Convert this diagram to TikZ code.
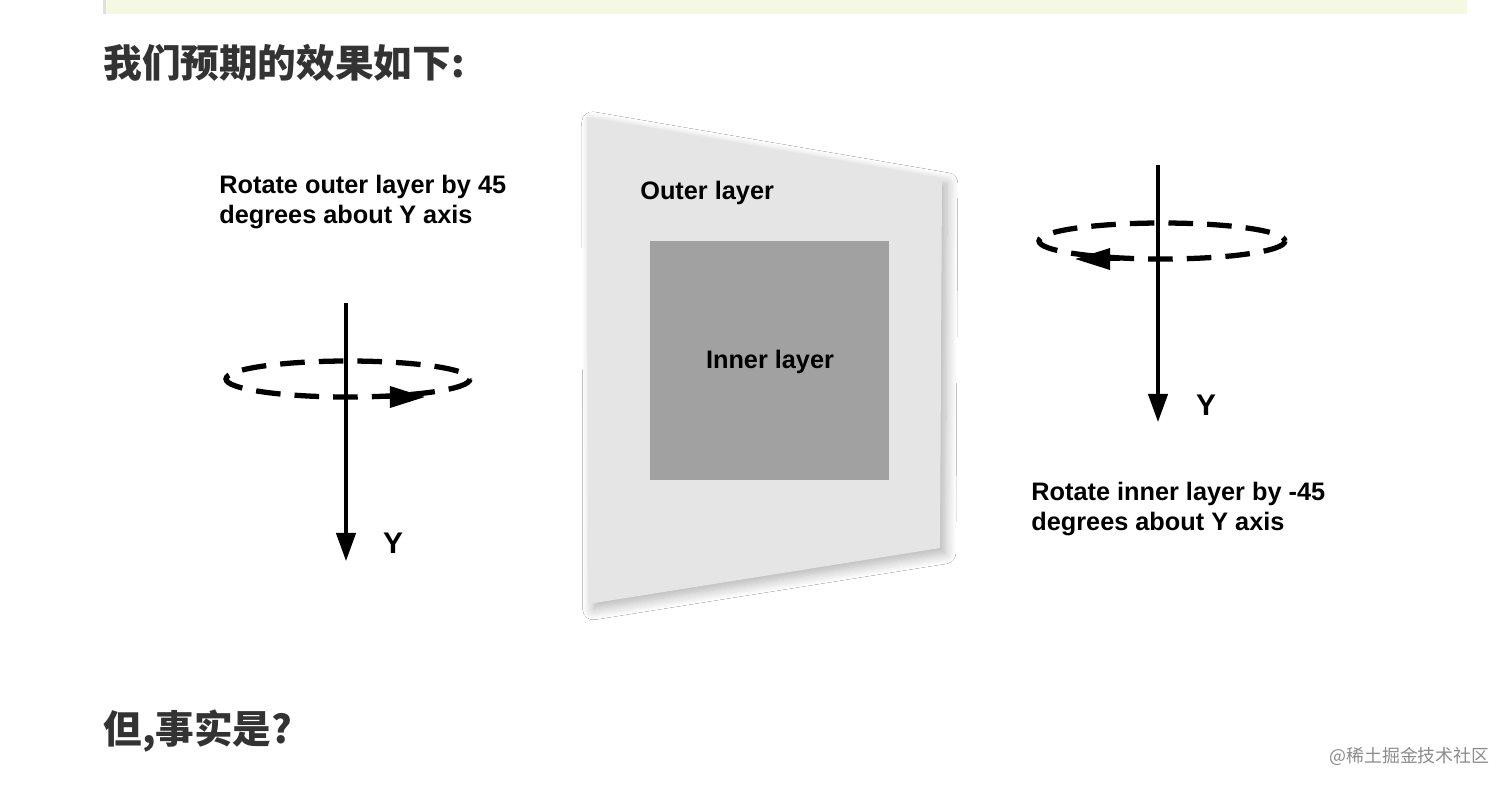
\documentclass[tikz,border=0pt]{standalone}
\usepackage{fontspec}
\setmainfont{Liberation Sans}
\newfontfamily\cjk{Noto Sans CJK SC}
\usetikzlibrary{shadows.blur,arrows.meta}
\definecolor{codebg}{HTML}{F5F8E2}
\tikzset{
  lbl/.style={font=\fontsize{14.4}{17}\selectfont\bfseries, align=left, anchor=north west, inner sep=0pt},
  big/.style={font=\fontsize{14.4}{17}\selectfont\bfseries},
  ylbl/.style={font=\fontsize{17}{20}\selectfont\bfseries},
  axisline/.style={line width=2pt, -{Triangle[length=16pt,width=11pt,fill=black]}},
  spintip/.style={line width=2pt, -{Triangle[length=20pt,width=12pt,fill=black]}},
  spin/.style={line width=3pt, dash pattern=on 14pt off 8pt},
  title/.style={font=\cjk\fontsize{22}{26}\selectfont\bfseries, anchor=west, inner sep=0pt, text=black!80}
}
\begin{document}
\begin{tikzpicture}[x=0.02cm,y=-0.02cm]
\useasboundingbox (0,0) rectangle (1512,789);
\fill[white] (0,0) rectangle (1512,789);
\fill[codebg] (103,0) rectangle (1467,14);
\fill[black!12] (103,0) rectangle (106,14);
\node[title] (t1) at (103,63) {我们预期的效果如下:};
\node[title] (t2) at (103,731) {但,事实是?};
\node[font=\cjk\fontsize{10.2}{12}\selectfont, text=black!45, anchor=east, inner sep=0pt] (wm) at (1490,756) {@稀土掘金技术社区};
% panel
\fill[black!10, blur shadow={shadow xshift=3pt, shadow yshift=-3pt, shadow blur radius=6pt, shadow blur steps=12, shadow opacity=30}] (587,117) -- (942,178) -- (940,548) -- (588,604) -- cycle;
\fill[black!37] (650,241) rectangle (889,480);
\node[lbl] (outer) at (640,181) {Outer layer};
\node[big] (inner) at (770,362) {Inner layer};
% left
\node[lbl] (ltxt) at (219,175) {Rotate outer layer by 45\\degrees about Y axis};
\coordinate (la1) at (346,303);
\coordinate (la2) at (346,561);
\draw[spin] (348,379) ellipse [x radius=122, y radius=18];
\draw[axisline] (la1) -- (la2);
\draw[spintip] (380,397) -- (425,397);
\node[ylbl] (ly) at (393,543) {Y};
% right
\node[lbl] (rtxt) at (1031,482) {Rotate inner layer by -45\\degrees about Y axis};
\coordinate (ra1) at (1158,165);
\coordinate (ra2) at (1158,422);
\draw[spin] (1162,241) ellipse [x radius=123, y radius=18];
\draw[axisline] (ra1) -- (ra2);
\draw[spintip] (1120,259) -- (1075,259);
\node[ylbl] (ry) at (1206,405) {Y};
\end{tikzpicture}
\end{document}
